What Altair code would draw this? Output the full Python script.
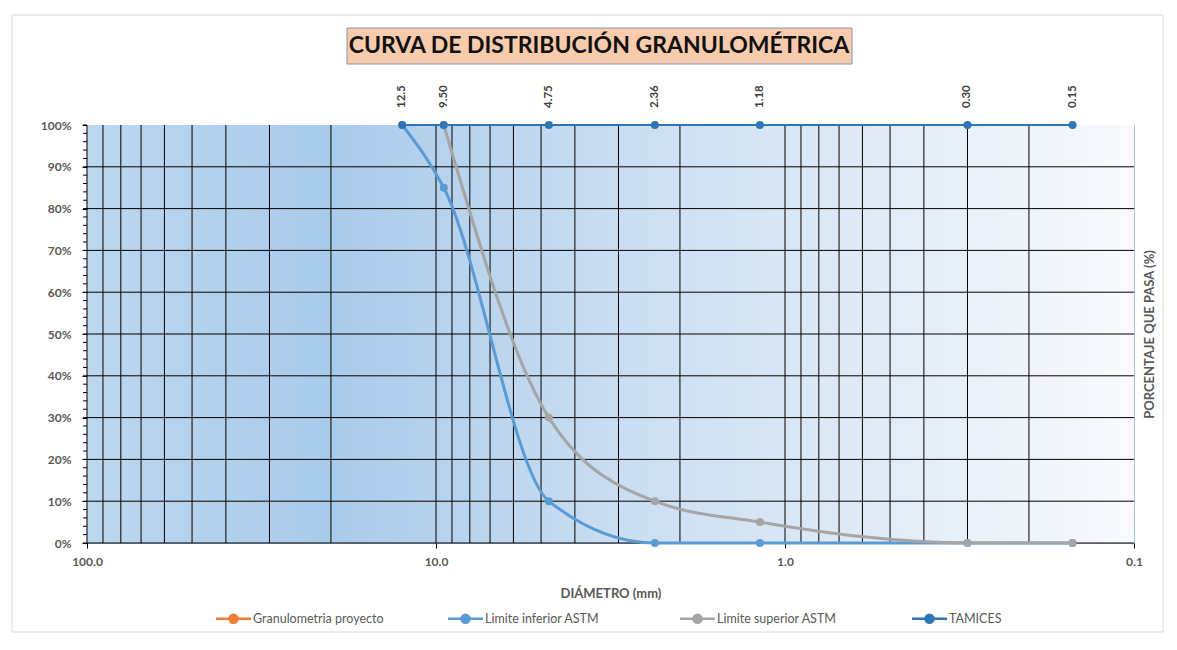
import altair as alt
import pandas as pd

# ---------------- data ----------------
sizes = [12.5, 9.5, 4.75, 2.36, 1.18, 0.30, 0.15]
size_labels = ["12.5", "9.50", "4.75", "2.36", "1.18", "0.30", "0.15"]
tamices_pct = [100, 100, 100, 100, 100, 100, 100]
lower_sizes = [12.5, 9.5, 4.75, 2.36, 1.18, 0.30, 0.15]
lower_pct = [100, 85, 10, 0, 0, 0, 0]
upper_sizes = [9.5, 4.75, 2.36, 1.18, 0.30, 0.15]
upper_pct = [100, 30, 10, 5, 0, 0]

series_names = ["Granulometria proyecto", "Limite inferior ASTM",
                "Limite superior ASTM", "TAMICES"]
series_colors = ["#ED7D31", "#5B9BD5", "#A5A5A5", "#2E75B6"]

x_ticks = [100, 10, 1, 0.1]
x_grid = [100, 90, 80, 70, 60, 50, 40, 30, 20, 10, 9, 8, 7, 6, 5, 4, 3, 2,
          1, 0.9, 0.8, 0.7, 0.6, 0.5, 0.4, 0.3, 0.2]
y_ticks = list(range(0, 101, 10))
y_grid = list(range(0, 100, 10))
y_minor = list(range(0, 101, 2))

TITLE = "CURVA DE DISTRIBUCIÓN GRANULOMÉTRICA"
FONT = "Lato"
GRAY = "#595959"

# ---------------- tables ----------------
astm = pd.concat([
    pd.DataFrame({"d": lower_sizes, "p": lower_pct, "s": series_names[1], "o": 1}),
    pd.DataFrame({"d": upper_sizes, "p": upper_pct, "s": series_names[2], "o": 2}),
], ignore_index=True)
tam = pd.DataFrame({"d": sizes, "p": tamices_pct, "lab": size_labels,
                    "s": series_names[3]})
curves = pd.concat([astm, tam[["d", "p", "s"]].assign(o=3)], ignore_index=True)
xg = pd.DataFrame({"v": x_grid})
yg = pd.DataFrame({"v": y_grid})
ym = pd.DataFrame({"v": y_minor})
one = pd.DataFrame({"k": [0]})

xs = alt.Scale(type="log", domain=[0.1, 100], reverse=True, nice=False)
ys = alt.Scale(domain=[0, 100], nice=False)

color_scale = alt.Scale(domain=series_names, range=series_colors)

W, H = 1047, 418

x_axis = alt.Axis(
    values=x_ticks, format=".1f", labelFlush=False, labelFont=FONT,
    labelFontSize=12, labelFontWeight="bold", labelColor=GRAY,
    tickColor="black", tickSize=5, domain=False, grid=False, labelPadding=8,
    title="DIÁMETRO   (mm)", titleFont=FONT, titleFontSize=13,
    titleFontWeight="bold", titleColor=GRAY, titlePadding=20)

# ---------------- layers ----------------
border = alt.Chart(one).mark_rect(fillOpacity=0, stroke="#D9D9D9", strokeWidth=1).encode(
    x=alt.value(-75), x2=alt.value(1076), y=alt.value(-110), y2=alt.value(507)
)

bg = alt.Chart(one).mark_rect(
    color={"gradient": "linear", "x1": 0, "x2": 1, "y1": 0, "y2": 0,
           "stops": [{"offset": 0, "color": "#BDD7EE"},
                     {"offset": 0.23, "color": "#A9CBEA"},
                     {"offset": 0.5, "color": "#C9DDF1"},
                     {"offset": 0.75, "color": "#E0EBF6"},
                     {"offset": 1, "color": "#F8FAFD"}]}
).encode(
    x=alt.X(datum=100, scale=xs, axis=x_axis), x2=alt.X2(datum=0.1),
    y=alt.Y(datum=0, scale=ys, axis=None), y2=alt.Y2(datum=100)
)

vgrid = alt.Chart(xg).mark_rule(color="black", strokeWidth=1).encode(
    x=alt.X("v:Q", scale=xs, axis=x_axis)
)

hgrid = alt.Chart(yg).mark_rule(color="black", strokeWidth=1).encode(
    y=alt.Y("v:Q", scale=ys, axis=alt.Axis(
        orient="right", labels=False, ticks=False, domain=False, grid=False,
        title="PORCENTAJE  QUE PASA  (%)", titleAngle=270, titleFont=FONT,
        titleFontSize=13, titleFontWeight="bold", titleColor=GRAY, titlePadding=22))
)

minor = alt.Chart(ym).mark_rule(color="black", strokeWidth=1).encode(
    x=alt.value(-4), x2=alt.value(0), y=alt.Y("v:Q", scale=ys, axis=None)
)

legend = alt.Legend(
    title=None, orient="none", legendX=140, legendY=487, direction="horizontal",
    columns=4, gridAlign="all", labelFont=FONT, labelFontSize=12.5, labelColor=GRAY,
    symbolType="M-3.5,0L3.5,0M0.8,0A0.8,0.8,0,1,1,-0.8,0A0.8,0.8,0,1,1,0.8,0Z",
    symbolSize=100, symbolStrokeWidth=2.5, labelOffset=13, columnPadding=59,
    symbolOpacity=1,
)

lines = alt.Chart(astm).mark_line(interpolate="monotone", strokeWidth=3).encode(
    x=alt.X("d:Q", scale=xs, axis=x_axis),
    y=alt.Y("p:Q", scale=ys, axis=alt.Axis(
        values=y_ticks, labelExpr="datum.value + '%'", labelFont=FONT,
        labelFontSize=12, labelFontWeight="bold", labelColor=GRAY,
        tickColor="black", tickSize=5, domain=False, grid=False,
        labelPadding=11, title=None)),
    color=alt.Color("s:N", scale=color_scale, legend=legend),
    detail="s:N",
)

tam_line = alt.Chart(tam).mark_line(strokeWidth=2).encode(
    x=alt.X("d:Q", scale=xs, axis=x_axis),
    y=alt.Y("p:Q", scale=ys, axis=None),
    color=alt.Color("s:N", scale=color_scale, legend=legend),
)

points = alt.Chart(curves).mark_point(filled=True, size=64, opacity=1).encode(
    x=alt.X("d:Q", scale=xs, axis=x_axis),
    y=alt.Y("p:Q", scale=ys, axis=None),
    color=alt.Color("s:N", scale=color_scale, legend=legend),
)

labels = alt.Chart(tam).mark_text(
    angle=270, align="left", baseline="middle", dx=17, font=FONT,
    fontSize=11.5, fontWeight="bold", color="#404040"
).encode(
    x=alt.X("d:Q", scale=xs, axis=x_axis),
    y=alt.Y("p:Q", scale=ys, axis=None),
    text="lab:N",
)

title_box = alt.Chart(one).mark_rect(fill="#F8CBAD", stroke="#8497B0", strokeWidth=1).encode(
    x=alt.value(260), x2=alt.value(765), y=alt.value(-97), y2=alt.value(-61)
)
title_txt = alt.Chart(one).mark_text(
    font=FONT, fontSize=23, fontWeight="bold", color="#111111",
    align="center", baseline="middle"
).encode(x=alt.value(512), y=alt.value(-79), text=alt.value(TITLE))

chart = alt.layer(
    border, bg, vgrid, hgrid, minor, lines, tam_line, points, labels,
    title_box, title_txt
).resolve_axis(y="independent").properties(
    width=W, height=H,
    autosize=alt.AutoSizeParams(type="none"),
    padding={"left": 79, "top": 117, "right": 32, "bottom": 92},
    background="white",
).configure_view(stroke="#A9C3DE", strokeWidth=1)

chart.save("out.html", embed_options={"renderer": "svg", "actions": False})
